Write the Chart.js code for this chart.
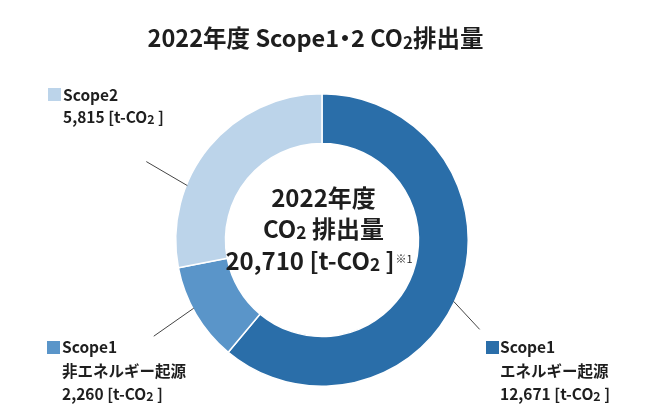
<!DOCTYPE html>
<html><head><meta charset="utf-8">
<script src="https://cdn.jsdelivr.net/npm/chart.js@4.4.1/dist/chart.umd.min.js"></script>
<style>html,body{margin:0;padding:0;background:#fff;}#wrap{width:645px;height:420px;position:relative;}</style>
</head><body><div id="wrap"><canvas id="c" width="645" height="420"></canvas></div>
<script>
const categories = ['Scope1 エネルギー起源', 'Scope1 非エネルギー起源', 'Scope2'];
const values = [12671, 2260, 5815];
const valueLabels = ['12,671', '2,260', '5,815'];
const totalLabel = '20,710';
const titleText = ['2022年度 Scope1', '・', '2 CO', '2', '排出量'];
const colors = ['#2a6ea9', '#5a95c9', '#bcd4ea'];

const FONT = '"Noto Sans CJK JP", "Noto Sans", sans-serif';
const TXT = '#1e1e1e';

function drawRuns(ctx, runs, x, y, size, align) {
  // runs: [text, scale, dyEm, advanceOverride]
  let total = 0;
  const ws = runs.map(r => {
    ctx.font = 'bold ' + (size * r[1]) + 'px ' + FONT;
    const m = ctx.measureText(r[0]).width;
    const w = r[3] ? r[3] : m;
    total += w; return [w, m];
  });
  let cx = align === 'center' ? x - total / 2 : x;
  ctx.textAlign = 'left';
  ctx.textBaseline = 'alphabetic';
  runs.forEach((r, i) => {
    ctx.font = 'bold ' + (size * r[1]) + 'px ' + FONT;
    const off = r[3] ? (ws[i][0] - ws[i][1]) / 2 : 0;
    ctx.fillText(r[0], cx + off, y + (r[2] || 0) * size);
    cx += ws[i][0];
  });
  return cx;
}
function unitRuns(v) { return [[v + ' [t-CO', 1, 0], ['2', 0.8, 0.05], [' ]', 1, 0]]; }

const overlay = {
  id: 'overlay',
  afterDraw(chart) {
    const ctx = chart.ctx;
    const meta = chart.getDatasetMeta(0);
    const arc = meta.data[0];
    const cx = arc.x, cy = arc.y, R = arc.outerRadius;
    ctx.save();
    ctx.fillStyle = TXT;
    // title
    drawRuns(ctx, [[titleText[0], 1, 0], [titleText[1], 1, 0, 12], [titleText[2], 1, 0], [titleText[3], 0.72, 0.1], [titleText[4], 1, 0]], 315.5, 47, 23.5, 'center');
    // center text
    drawRuns(ctx, [['2022年度', 1, 0]], cx + 1.5, 207, 24, 'center');
    drawRuns(ctx, [['CO', 1, 0], ['2', 0.72, 0.04], [' 排出量', 1, 0]], cx + 1.5, 238, 24, 'center');
    const endX = drawRuns(ctx, [[totalLabel + ' [t-CO', 1, 0], ['2', 0.72, 0.04], [' ]', 1, 0]], cx - 12, 270, 24, 'center');
    ctx.font = '11px ' + FONT;
    ctx.textAlign = 'left';
    ctx.fillText('※1', endX + 1, 263);
    // leader lines
    const lines = [[115, 26, 28], [242, -40, 28], [292, -41, -24]];
    ctx.strokeStyle = '#444';
    ctx.lineWidth = 1;
    lines.forEach(l => {
      const a = l[0] * Math.PI / 180;
      const x0 = cx + (R - 1) * Math.sin(a), y0 = cy - (R - 1) * Math.cos(a);
      ctx.beginPath(); ctx.moveTo(x0, y0); ctx.lineTo(x0 + l[1], y0 + l[2]); ctx.stroke();
    });
    // labels
    const labs = [
      {i: 0, sx: 486, sy: 341, tx: 500, lines: [353, 377, 400]},
      {i: 1, sx: 47, sy: 341, tx: 62, lines: [353, 377, 400]},
      {i: 2, sx: 48, sy: 88, tx: 63, lines: [101, 123]}
    ];
    labs.forEach(L => {
      ctx.fillStyle = colors[L.i];
      ctx.fillRect(L.sx, L.sy, 13, 13);
      ctx.fillStyle = TXT;
      const parts = categories[L.i].split(' ');
      drawRuns(ctx, [[parts[0], 1, 0]], L.tx, L.lines[0], 15.5, 'left');
      if (parts.length > 1) drawRuns(ctx, [[parts[1], 1, 0]], L.tx, L.lines[1], 15.5, 'left');
      drawRuns(ctx, unitRuns(valueLabels[L.i]), L.tx, L.lines[L.lines.length - 1], 15.5, 'left');
    });
    ctx.restore();
  }
};

new Chart(document.getElementById('c'), {
  type: 'doughnut',
  data: {
    labels: categories,
    datasets: [{ data: values, backgroundColor: colors, borderColor: '#ffffff', borderWidth: 1.5, hoverOffset: 0 }]
  },
  options: {
    responsive: false,
    animation: false,
    cutout: '66%',
    rotation: 0,
    layout: { padding: { top: 93, bottom: 33, left: 175, right: 176 } },
    plugins: { legend: { display: false }, tooltip: { enabled: false }, title: { display: false } }
  },
  plugins: [overlay]
});
</script>
</body></html>
